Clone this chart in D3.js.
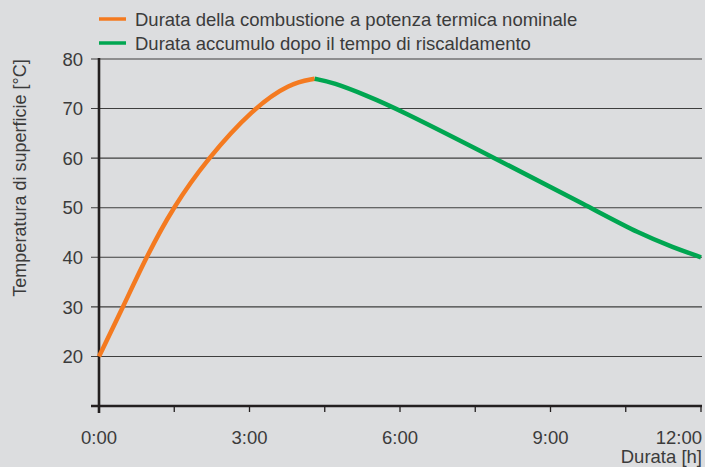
<!DOCTYPE html>
<html><head><meta charset="utf-8">
<script src="https://cdn.jsdelivr.net/npm/d3@7"></script>
<style>
html,body{margin:0;padding:0;background:#dcdddf;}
svg{display:block;font-family:"Liberation Sans",Arial,sans-serif;}
</style></head>
<body>
<svg id="chart" width="705" height="467"></svg>
<script>
const seriesNames = ["Durata della combustione a potenza termica nominale", "Durata accumulo dopo il tempo di riscaldamento"];
const seriesColors = ["#f47a20", "#00a651"];
const burnHours = [0, 0.48, 0.94, 1.47, 2.17, 3.07, 3.8, 4.3];
const burnTemps = [20, 30, 40, 50, 60, 70, 75.1, 76];
const storeHours = [4.3, 4.66, 5.34, 5.94, 7.89, 9.8, 10.78, 11.45, 12];
const storeTemps = [76, 75.3, 72.6, 70, 60, 50, 44.7, 42, 40];
const yTicks = [20, 30, 40, 50, 60, 70, 80];
const xTicks = [0, 1.5, 3, 4.5, 6, 7.5, 9, 10.5, 12];
const xLabels = {0: "0:00", 3: "3:00", 6: "6:00", 9: "9:00", 12: "12:00"};

const svg = d3.select("#chart");
const x = d3.scaleLinear().domain([0, 12]).range([99, 701]);
const y = d3.scaleLinear().domain([10, 80]).range([406, 59]);
const textColor = "#3b3b3b";
const fs = 18.5;

// gridlines
svg.append("g").selectAll("line").data(yTicks).join("line")
  .attr("x1", 91).attr("x2", 702)
  .attr("y1", d => y(d)).attr("y2", d => y(d))
  .attr("stroke", "#3e3e3e").attr("stroke-width", 1.1);

// y tick labels
svg.append("g").selectAll("text").data(yTicks).join("text")
  .attr("x", 83).attr("y", d => y(d)).attr("dy", "0.36em")
  .attr("text-anchor", "end").attr("font-size", fs).attr("fill", textColor)
  .text(d => d);

// x axis ticks
svg.append("g").selectAll("line").data(xTicks).join("line")
  .attr("x1", d => x(d)).attr("x2", d => x(d))
  .attr("y1", 406).attr("y2", 412)
  .attr("stroke", "#231f20").attr("stroke-width", 1.3);

// axes lines
svg.append("line").attr("x1", 91).attr("x2", 702).attr("y1", 406).attr("y2", 406)
  .attr("stroke", "#231f20").attr("stroke-width", 2.6);
svg.append("line").attr("x1", x(0)).attr("x2", x(0)).attr("y1", 58).attr("y2", 413)
  .attr("stroke", "#231f20").attr("stroke-width", 2.6);

// x labels
svg.append("g").selectAll("text").data(xTicks.filter(d => xLabels[d])).join("text")
  .attr("x", d => d === 12 ? 702 : x(d)).attr("y", 444)
  .attr("text-anchor", d => d === 12 ? "end" : "middle")
  .attr("font-size", fs).attr("fill", textColor)
  .text(d => xLabels[d]);

svg.append("text").attr("x", 702).attr("y", 463).attr("text-anchor", "end")
  .attr("font-size", fs).attr("fill", textColor).text("Durata [h]");

svg.append("text").attr("transform", "translate(26,178) rotate(-90)")
  .attr("text-anchor", "middle").attr("font-size", 18).attr("fill", textColor)
  .text("Temperatura di superficie [°C]");

// curves
const line = d3.line().x(d => x(d[0])).y(d => y(d[1])).curve(d3.curveBasis);
const burn = burnHours.map((h, i) => [h, burnTemps[i]]);
const store = storeHours.map((h, i) => [h, storeTemps[i]]);
svg.append("path").datum(burn).attr("d", line).attr("fill", "none")
  .attr("stroke", seriesColors[0]).attr("stroke-width", 4.5);
svg.append("path").datum(store).attr("d", line).attr("fill", "none")
  .attr("stroke", seriesColors[1]).attr("stroke-width", 4.5);

// legend
const leg = svg.append("g");
seriesNames.forEach((n, i) => {
  const yy = 19 + i * 24;
  leg.append("line").attr("x1", 99).attr("x2", 126).attr("y1", yy).attr("y2", yy)
    .attr("stroke", seriesColors[i]).attr("stroke-width", 3.5);
  leg.append("text").attr("x", 135).attr("y", yy).attr("dy", "0.36em")
    .attr("font-size", fs).attr("fill", textColor).text(n);
});
</script>
</body></html>
